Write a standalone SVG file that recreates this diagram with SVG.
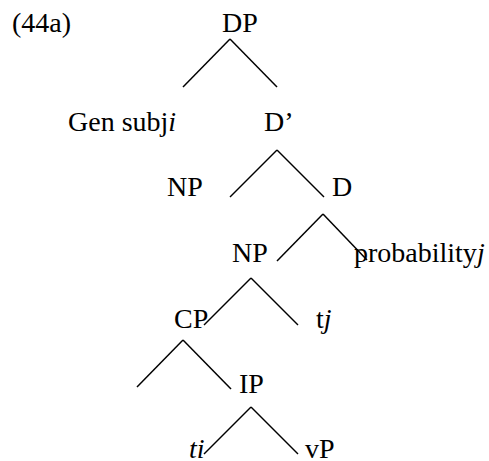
<svg xmlns="http://www.w3.org/2000/svg" width="489" height="461" viewBox="0 0 489 461">
<style>
text{font-family:"Liberation Serif","Times New Roman",serif;font-size:28px;fill:#000}
.it{font-style:italic}
line{stroke:#000;stroke-width:1.5;fill:none}
</style>
<rect width="489" height="461" fill="#fff"/>
<text id="label" x="12" y="32">(44a)</text>
<g id="dp"><text x="222" y="32">DP</text></g>
<g id="gensubj"><text x="68" y="131">Gen subj<tspan class="it">i</tspan></text></g>
<g id="dbar"><text x="264" y="131">D’</text></g>
<g id="np1"><text x="167" y="196">NP</text></g>
<g id="d"><text x="332" y="196">D</text></g>
<g id="np2"><text x="232" y="262">NP</text></g>
<g id="probability"><text x="354" y="262">probability<tspan class="it">j</tspan></text></g>
<g id="cp"><text x="174" y="328">CP</text></g>
<g id="tj"><text x="316" y="328">t<tspan class="it">j</tspan></text></g>
<g id="ip"><text x="239" y="393">IP</text></g>
<g id="ti"><text class="it" x="189" y="458">ti</text></g>
<g id="vp"><text x="305" y="458">vP</text></g>
<g id="connectors">
<line x1="230" y1="39" x2="183" y2="87"/>
<line x1="230" y1="39" x2="277" y2="87"/>
<line x1="277" y1="150" x2="230" y2="197"/>
<line x1="277" y1="150" x2="324" y2="197"/>
<line x1="323" y1="214" x2="277" y2="261"/>
<line x1="323" y1="214" x2="367" y2="260"/>
<line x1="251" y1="278" x2="204" y2="325"/>
<line x1="251" y1="278" x2="298" y2="325"/>
<line x1="183" y1="340" x2="137" y2="387"/>
<line x1="183" y1="340" x2="231" y2="389"/>
<line x1="251" y1="407" x2="204" y2="454"/>
<line x1="251" y1="407" x2="298" y2="454"/>
</g>
</svg>
